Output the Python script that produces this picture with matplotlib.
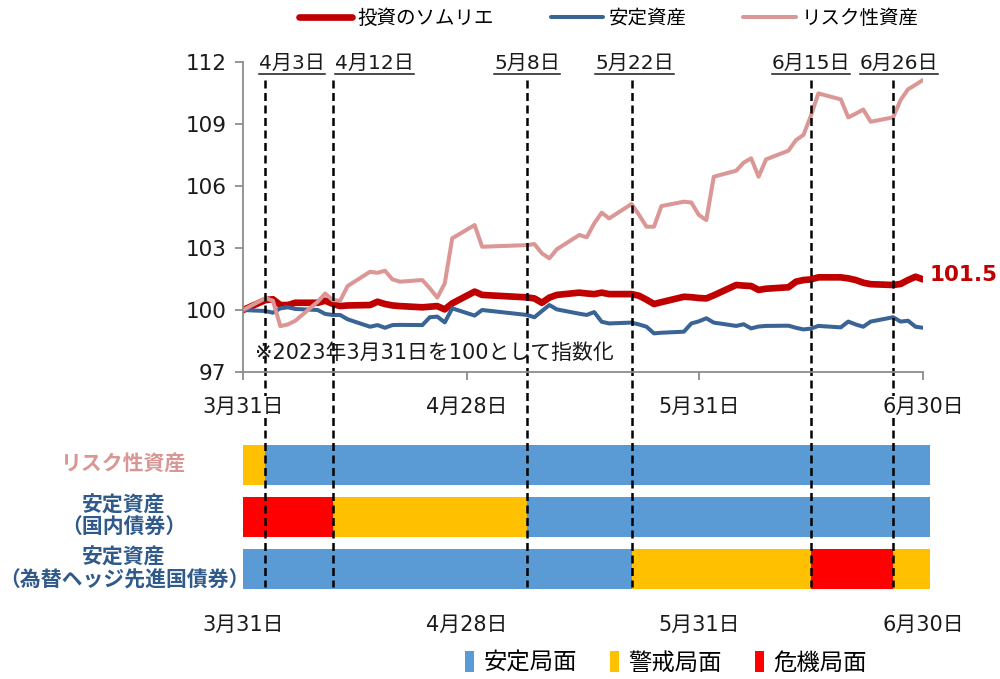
import matplotlib
matplotlib.use("Agg")
import matplotlib.pyplot as plt
import matplotlib.dates as mdates
import matplotlib.transforms as mtransforms
from matplotlib.lines import Line2D
from matplotlib.patches import Rectangle
import pandas as pd

plt.rcParams['font.family'] = ['DejaVu Sans', 'Noto Sans CJK JP']

# ---------------- data ----------------
dates = ["2023-03-31", "2023-04-03", "2023-04-04", "2023-04-05", "2023-04-06", "2023-04-07",
         "2023-04-10", "2023-04-11", "2023-04-12", "2023-04-13", "2023-04-14",
         "2023-04-17", "2023-04-18", "2023-04-19", "2023-04-20", "2023-04-21",
         "2023-04-24", "2023-04-25", "2023-04-26", "2023-04-27", "2023-04-28",
         "2023-05-01", "2023-05-02", "2023-05-08", "2023-05-09", "2023-05-10",
         "2023-05-11", "2023-05-12", "2023-05-15", "2023-05-16", "2023-05-17",
         "2023-05-18", "2023-05-19", "2023-05-22", "2023-05-23", "2023-05-24",
         "2023-05-25", "2023-05-26", "2023-05-29", "2023-05-30", "2023-05-31",
         "2023-06-01", "2023-06-02", "2023-06-05", "2023-06-06", "2023-06-07",
         "2023-06-08", "2023-06-09", "2023-06-12", "2023-06-13", "2023-06-14",
         "2023-06-15", "2023-06-16", "2023-06-19", "2023-06-20", "2023-06-21",
         "2023-06-22", "2023-06-23", "2023-06-26", "2023-06-27", "2023-06-28",
         "2023-06-29", "2023-06-30"]

sommelier = [100.0, 100.48, 100.52, 100.24, 100.24, 100.35, 100.35, 100.45, 100.30, 100.19,
             100.22, 100.24, 100.40, 100.29, 100.22, 100.19, 100.13, 100.16, 100.19, 100.03,
             100.32, 100.89, 100.73, 100.61, 100.56, 100.35, 100.60, 100.73, 100.84, 100.80,
             100.77, 100.84, 100.77, 100.77, 100.69, 100.50, 100.29, 100.38, 100.64, 100.62,
             100.58, 100.56, 100.71, 101.21, 101.18, 101.16, 100.97, 101.03, 101.10, 101.37,
             101.45, 101.48, 101.58, 101.58, 101.53, 101.45, 101.32, 101.25, 101.21, 101.26,
             101.45, 101.61, 101.48]

stable = [100.0, 99.95, 99.87, 100.08, 100.13, 100.05, 100.00, 99.81, 99.76, 99.76,
          99.55, 99.19, 99.27, 99.14, 99.27, 99.28, 99.27, 99.65, 99.68, 99.40,
          100.08, 99.73, 100.00, 99.76, 99.65, 99.95, 100.24, 100.03, 99.82, 99.76,
          99.90, 99.43, 99.35, 99.39, 99.30, 99.19, 98.87, 98.90, 98.95, 99.35,
          99.45, 99.60, 99.39, 99.23, 99.31, 99.11, 99.20, 99.23, 99.24, 99.14,
          99.06, 99.10, 99.23, 99.16, 99.44, 99.30, 99.19, 99.44, 99.65, 99.44,
          99.48, 99.19, 99.14]

risky = [100.0, 100.57, 100.45, 99.22, 99.30, 99.48, 100.40, 100.80, 100.48, 100.45,
         101.16, 101.85, 101.80, 101.90, 101.48, 101.37, 101.45, 101.05, 100.60, 101.29,
         103.47, 104.11, 103.06, 103.14, 103.19, 102.74, 102.50, 102.94, 103.63, 103.52,
         104.19, 104.71, 104.43, 105.13, 104.60, 104.03, 104.03, 105.03, 105.24, 105.20,
         104.60, 104.35, 106.45, 106.74, 107.13, 107.34, 106.45, 107.29, 107.71, 108.22,
         108.47, 109.40, 110.48, 110.19, 109.32, 109.50, 109.70, 109.11, 109.32, 110.16,
         110.68, 110.90, 111.13]

series_names = ["投資のソムリエ", "安定資産", "リスク性資産"]

yticks = [97, 100, 103, 106, 109, 112]
tick_dates = ["2023-03-31", "2023-04-30", "2023-05-31", "2023-06-30"]
tick_labels = ["3月31日", "4月28日", "5月31日", "6月30日"]

event_dates = ["2023-04-03", "2023-04-12", "2023-05-08", "2023-05-22", "2023-06-15", "2023-06-26"]
event_labels = ["4月3日", "4月12日", "5月8日", "5月22日", "6月15日", "6月26日"]

row_labels = ["リスク性資産", "安定資産\n（国内債券）", "安定資産\n（為替ヘッジ先進国債券）"]
phase_names = ["安定局面", "警戒局面", "危機局面"]
# (start, end, phase) per row
phases_risky = [("2023-03-31", "2023-04-03", "警戒局面"), ("2023-04-03", "2023-07-01", "安定局面")]
phases_domestic = [("2023-03-31", "2023-04-12", "危機局面"), ("2023-04-12", "2023-05-08", "警戒局面"),
                   ("2023-05-08", "2023-07-01", "安定局面")]
phases_foreign = [("2023-03-31", "2023-05-22", "安定局面"), ("2023-05-22", "2023-06-15", "警戒局面"),
                  ("2023-06-15", "2023-06-26", "危機局面"), ("2023-06-26", "2023-07-01", "警戒局面")]

# ---------------- styles ----------------
C_RED = "#C00000"
C_BLUE = "#3A6496"
C_PINK = "#DB9795"
phase_colors = {"安定局面": "#5B9BD5", "警戒局面": "#FFC000", "危機局面": "#FF0000"}
row_colors = ["#D99694", "#2F5A8A", "#2F5A8A"]
GRAY = "#8C8C8C"
TXT = "#1a1a1a"

x = pd.to_datetime(dates)
xmin, xmax = pd.Timestamp("2023-03-31"), pd.Timestamp("2023-06-30")

fig = plt.figure(figsize=(10, 6.79), dpi=100)

# ---------------- lower phase panel (added first) ----------------
ax2 = fig.add_axes([0.243, 1 - 595 / 679, 0.680, 156 / 679])
for row, segs in enumerate([phases_risky, phases_domestic, phases_foreign]):
    for s, e, ph in segs:
        s_n = mdates.date2num(pd.Timestamp(s))
        e_n = mdates.date2num(pd.Timestamp(e))
        ax2.barh(row, e_n - s_n, left=s_n, height=0.77, color=phase_colors[ph],
                 edgecolor="none", clip_on=False)
ax2.set_ylim(2.5, -0.5)
ax2.set_xlim(xmin, xmax)
for sp in ax2.spines.values():
    sp.set_visible(False)
ax2.set_yticks([])
ax2.set_xticks(pd.to_datetime(tick_dates))
ax2.set_xticklabels(tick_labels)
ax2.tick_params(axis="x", length=0, pad=14, labelsize=15, colors=TXT)
ax2.patch.set_alpha(0)

# ---------------- top line chart ----------------
ax = fig.add_axes([0.243, 1 - 372 / 679, 0.680, 310 / 679])
ax.patch.set_alpha(0)
ax.set_axisbelow(False)
l1, = ax.plot(x, sommelier, color=C_RED, lw=4.8, solid_joinstyle="round", solid_capstyle="round", zorder=2)
l2, = ax.plot(x, stable, color=C_BLUE, lw=2.9, solid_joinstyle="round", solid_capstyle="round", zorder=2)
l3, = ax.plot(x, risky, color=C_PINK, lw=2.9, solid_joinstyle="round", solid_capstyle="round", zorder=2)

ax.set_xlim(xmin, xmax)
ax.set_ylim(97, 112)
ax.set_yticks(yticks)
ax.set_xticks(pd.to_datetime(tick_dates))
ax.set_xticklabels(tick_labels)
for sp in ["top", "right"]:
    ax.spines[sp].set_visible(False)
for sp in ["left", "bottom"]:
    ax.spines[sp].set_color(GRAY)
    ax.spines[sp].set_linewidth(1.3)
ax.tick_params(axis="y", length=6, width=1.3, color=GRAY, labelsize=15.5, pad=6, labelcolor=TXT)
ax.tick_params(axis="x", length=6, width=1.3, color=GRAY, labelsize=15, pad=12, labelcolor=TXT)
for t in ax.get_xticklabels():
    t.set_bbox(dict(facecolor="white", edgecolor="none", pad=1.0))

ax.text(0.0176, 0.061, "※2023年3月31日を100として指数化", transform=ax.transAxes,
        fontsize=15, ha="left", va="center", color=TXT)

ax.annotate(f"{sommelier[-1]:.1f}", xy=(x[-1], sommelier[-1]), xytext=(5, 3),
            textcoords="offset points", fontsize=15.5, fontweight="bold", color=C_RED,
            ha="left", va="center", annotation_clip=False)

# event dashed lines spanning both panels
trans = mtransforms.blended_transform_factory(ax.transData, fig.transFigure)
label_shift_days = [3.5, 5.6, 0.0, 0.4, 0.0, 0.8]
ev_texts = []
for d, lab, sh in zip(event_dates, event_labels, label_shift_days):
    xd = mdates.date2num(pd.Timestamp(d))
    ax.add_line(Line2D([xd, xd], [1 - 80 / 679, 1 - 587 / 679], transform=trans, color="black",
                       lw=1.8, linestyle=(0, (3.2, 1.8)), clip_on=False, zorder=2.2))
    t = ax.text(xd + sh, 1 - 63 / 679, lab, transform=trans, fontsize=14.5, ha="center",
                va="center", color=TXT, clip_on=False)
    ev_texts.append(t)

# row labels
row_y = [465, 517, 569]
for lab, yy, col in zip(row_labels, row_y, row_colors):
    fig.text(0.124, 1 - yy / 679, lab, ha="center", va="center", fontsize=15,
             fontweight="bold", color=col, linespacing=1.12)

# legends
fig.legend([l1, l2, l3], series_names, loc="center", bbox_to_anchor=(0.609, 0.973), ncol=3,
           frameon=False, fontsize=14, handlelength=2.7, columnspacing=2.9, handletextpad=0.3,
           borderaxespad=0, borderpad=0)
phase_handles = [Rectangle((0, 0), 1, 1, facecolor=phase_colors[p], edgecolor="none") for p in phase_names]
fig.legend(phase_handles, phase_names, loc="center", bbox_to_anchor=(0.666, 1 - 663 / 679), ncol=3,
           frameon=False, fontsize=16.8, handlelength=0.4, handleheight=1.0, columnspacing=1.4,
           handletextpad=0.4, borderaxespad=0, borderpad=0)

# underline event labels
fig.canvas.draw()
inv = fig.transFigure.inverted()
for t in ev_texts:
    bb = t.get_window_extent()
    (x0, _), (x1, _) = inv.transform([(bb.x0, 0), (bb.x1, 0)])
    fig.add_artist(Line2D([x0, x1], [1 - 74 / 679] * 2, transform=fig.transFigure,
                          color=TXT, lw=1.1))

fig.savefig("out.png", dpi=100)
